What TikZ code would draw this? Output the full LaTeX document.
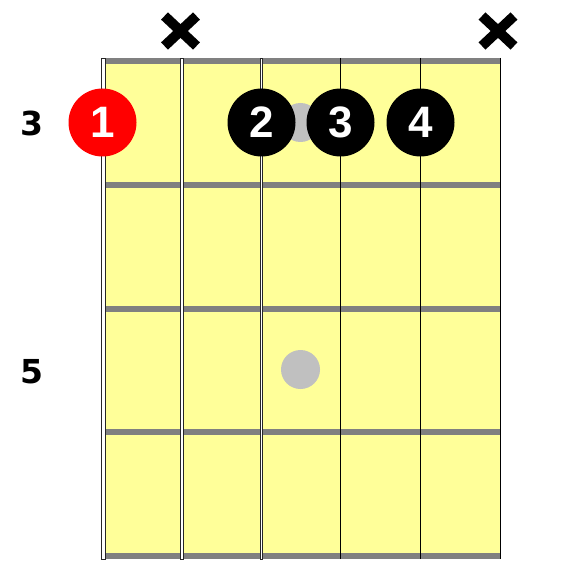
\documentclass[tikz,border=0pt]{standalone}
\usepackage{fontspec}
\setmainfont{DejaVu Sans}
\newfontfamily\fingerfont{Liberation Sans}
\usetikzlibrary{calc}
\definecolor{board}{RGB}{255,255,153}
\definecolor{fretgray}{RGB}{128,128,128}
\definecolor{dotgray}{RGB}{192,192,192}
\definecolor{fingerred}{RGB}{255,0,0}
\tikzset{
  fretline/.style={draw=fretgray,line width=6pt},
  thickstring/.style={draw=black!85,fill=white,line width=0.9pt},
  thinstring/.style={draw=black,line width=1pt},
  inlay/.style={circle,fill=dotgray,minimum size=39pt,inner sep=0pt},
  finger/.style={circle,fill=black,minimum size=68pt,inner sep=0pt,text=white,font=\fingerfont\fontsize{44}{44}\selectfont\bfseries},
  fingerone/.style={finger,fill=fingerred},
  fretlabel/.style={font=\fontsize{33}{33}\selectfont\bfseries,text=black},
  mutemark/.style={line width=10pt,draw=black}
}
\begin{document}
\begin{tikzpicture}[x=1pt,y=-1pt]
\useasboundingbox (0,0) rectangle (563,580);
% board
\fill[board] (103,58) rectangle (500,559);
% frets
\foreach \y in {61,185,309,432,556} \draw[fretline] (104,\y) -- (500,\y);
% strings
\draw[thickstring] (101.5,58) rectangle (105.5,559);
\draw[thickstring] (180.8,58) rectangle (183.6,559);
\draw[thickstring] (260.4,58) rectangle (262.8,559);
\draw[thinstring] (340.5,58) -- (340.5,559);
\draw[thinstring] (420.5,58) -- (420.5,559);
\draw[thinstring] (500,58) -- (500,559);
% inlays
\node[inlay] (in1) at (300.5,122.5) {};
\node[inlay] (in2) at (300.5,369.5) {};
% fingers
\node[fingerone] (f1) at (102.5,122.5) {1};
\node[finger] (f2) at (261.5,122.5) {2};
\node[finger] (f3) at (340.5,122.5) {3};
\node[finger] (f4) at (420.5,122.5) {4};
% fret labels
\node[fretlabel] (l3) at (32,123) {3};
\node[fretlabel] (l5) at (32,372) {5};
% mute marks
\coordinate (m1) at (180.5,31);
\coordinate (m2) at (498,31);
\foreach \m in {m1,m2}{
  \draw[mutemark] ($(\m)+(-16,-15)$) -- ($(\m)+(16,15)$);
  \draw[mutemark] ($(\m)+(-16,15)$) -- ($(\m)+(16,-15)$);
}
\end{tikzpicture}
\end{document}
